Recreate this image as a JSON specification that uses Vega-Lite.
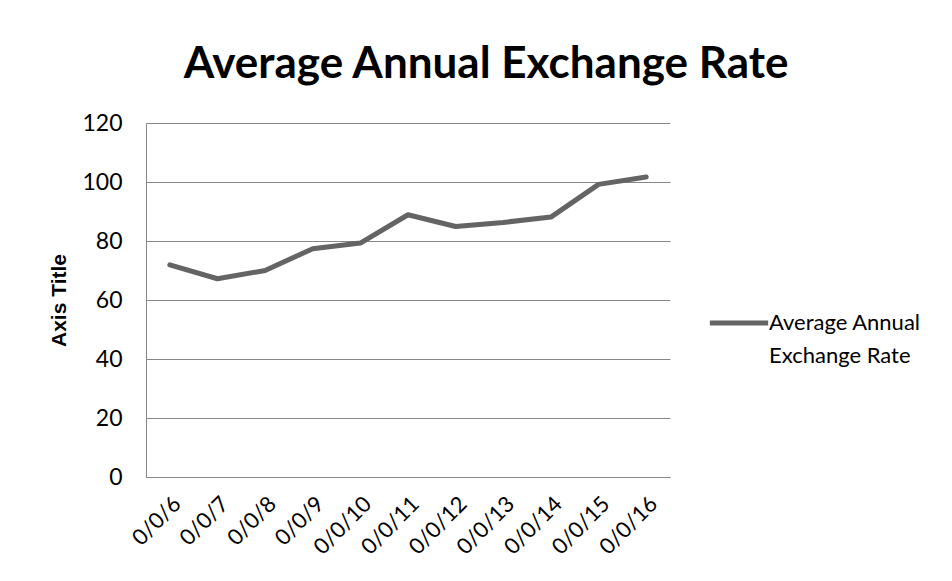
{
  "$schema": "https://vega.github.io/schema/vega-lite/v6.json",
  "width": 524,
  "height": 354,
  "autosize": {"type": "none"},
  "padding": {"left": 146, "top": 123, "right": 282, "bottom": 104},
  "background": "white",
  "title": {
    "text": "Average Annual Exchange Rate",
    "font": "Lato",
    "fontSize": 44,
    "fontWeight": "bold",
    "color": "black",
    "anchor": "middle",
    "frame": "group",
    "dx": 78,
    "offset": 25
  },
  "data": {
    "values": [
      {"date": "0/0/6", "rate": 71.9, "series": "Average Annual Exchange Rate"},
      {"date": "0/0/7", "rate": 67.2, "series": "Average Annual Exchange Rate"},
      {"date": "0/0/8", "rate": 70.0, "series": "Average Annual Exchange Rate"},
      {"date": "0/0/9", "rate": 77.4, "series": "Average Annual Exchange Rate"},
      {"date": "0/0/10", "rate": 79.3, "series": "Average Annual Exchange Rate"},
      {"date": "0/0/11", "rate": 88.9, "series": "Average Annual Exchange Rate"},
      {"date": "0/0/12", "rate": 84.9, "series": "Average Annual Exchange Rate"},
      {"date": "0/0/13", "rate": 86.3, "series": "Average Annual Exchange Rate"},
      {"date": "0/0/14", "rate": 88.1, "series": "Average Annual Exchange Rate"},
      {"date": "0/0/15", "rate": 99.2, "series": "Average Annual Exchange Rate"},
      {"date": "0/0/16", "rate": 101.7, "series": "Average Annual Exchange Rate"}
    ]
  },
  "mark": {"type": "line", "strokeWidth": 5, "strokeCap": "round", "strokeJoin": "round"},
  "encoding": {
    "x": {
      "field": "date",
      "type": "ordinal",
      "sort": null,
      "scale": {"type": "point", "padding": 0.5},
      "axis": {
        "title": null,
        "grid": false,
        "ticks": false,
        "domain": true,
        "domainColor": "#868686",
        "domainWidth": 1,
        "labelAngle": -45,
        "labelFont": "Lato",
        "labelFontSize": 22,
        "labelColor": "black",
        "labelPadding": 16
      }
    },
    "y": {
      "field": "rate",
      "type": "quantitative",
      "scale": {"domain": [0, 120], "nice": false},
      "axis": {
        "title": "Axis Title",
        "titleFont": "Liberation Sans",
        "titleFontSize": 21,
        "titleFontWeight": "bold",
        "titleColor": "black",
        "titlePadding": 12,
        "values": [0, 20, 40, 60, 80, 100, 120],
        "grid": true,
        "gridColor": "#868686",
        "gridWidth": 1,
        "ticks": false,
        "domain": true,
        "domainColor": "#868686",
        "domainWidth": 1,
        "labelFont": "Lato",
        "labelFontSize": 23,
        "labelColor": "black",
        "labelPadding": 24
      }
    },
    "color": {
      "field": "series",
      "type": "nominal",
      "scale": {"range": ["#646464"]},
      "legend": {
        "title": null,
        "orient": "none",
        "legendX": 561,
        "legendY": 168,
        "padding": 0,
        "symbolType": "stroke",
        "symbolStrokeWidth": 5,
        "symbolSize": 3400,
        "labelExpr": "['Average Annual', 'Exchange Rate']",
        "labelFont": "Lato",
        "labelFontSize": 22,
        "labelColor": "black",
        "labelOffset": -2,
        "labelLimit": 300
      }
    }
  },
  "config": {
    "view": {"stroke": null},
    "style": {"guide-label": {"lineHeight": 33}}
  }
}
